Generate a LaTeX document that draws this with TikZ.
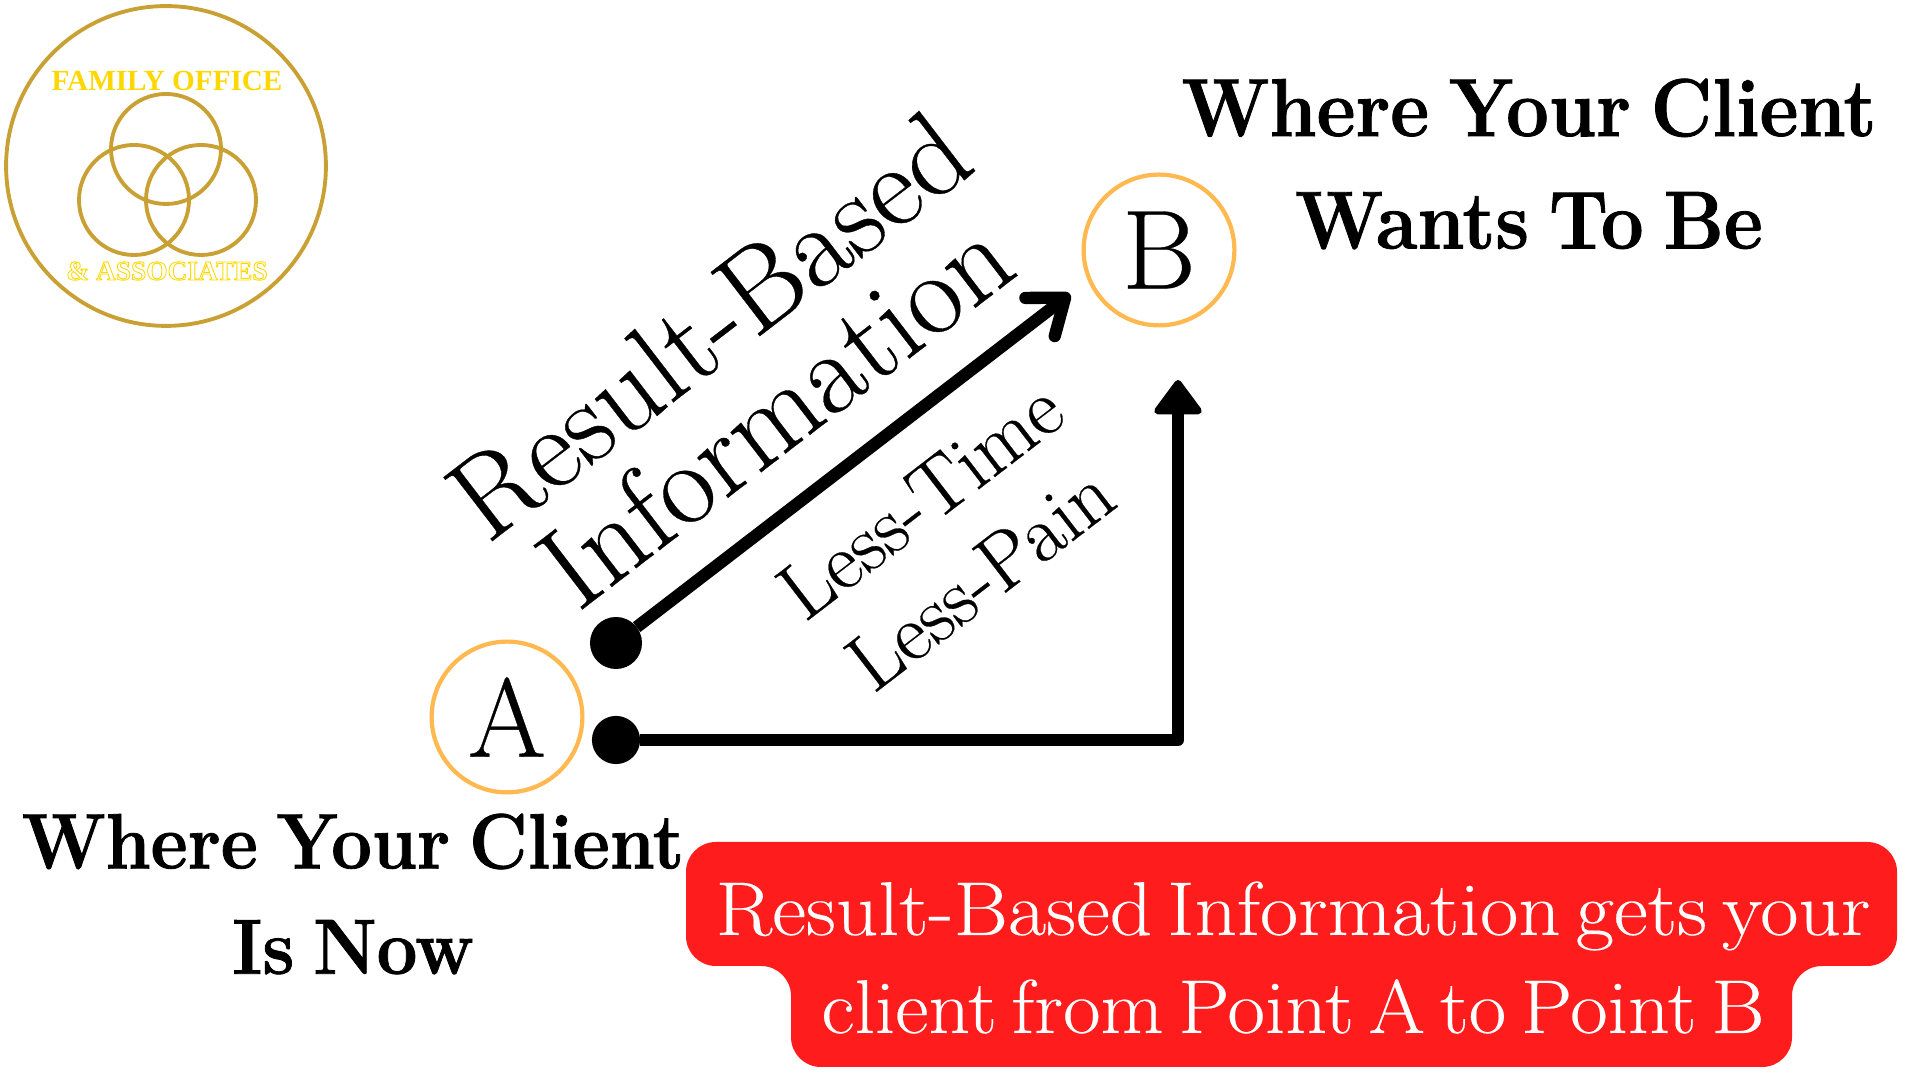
\documentclass[tikz,border=0pt]{standalone}
\usepackage{fontspec}
\usetikzlibrary{arrows.meta}
\setmainfont[FakeBold=0.3]{Latin Modern Roman}
\newfontfamily\headfont[FakeStretch=0.92,WordSpace=0.7,BoldFeatures={FakeBold=1}]{Latin Modern Roman}
\newfontfamily\bannerfont[FakeStretch=1.09,WordSpace=0.6,FakeBold=0.2]{Latin Modern Roman}
\newfontfamily\bannerfontb[FakeStretch=1.07,WordSpace=0.6,FakeBold=0.2]{Latin Modern Roman}
\newfontfamily\logofont{Liberation Serif}
\definecolor{goldline}{HTML}{C9A033}
\definecolor{goldtext}{HTML}{FFD700}
\definecolor{ringorange}{HTML}{FFB950}
\definecolor{bannerred}{HTML}{FF1C1C}
\tikzset{
  ring/.style={circle, draw=ringorange, line width=1.2pt, minimum size=42.9pt, inner sep=0pt, font=\fontsize{32}{32}\selectfont},
  logoring/.style={circle, draw=goldline, line width=1.1pt, inner sep=0pt},
  dot/.style={circle, fill=black, inner sep=0pt, outer sep=0pt},
  thick line/.style={line width=3.5pt, line join=round},
  heading/.style={font=\headfont\fontsize{23.4}{32}\selectfont\bfseries, align=center},
  banner text/.style={white, font=\bannerfont\fontsize{21.7}{22}\selectfont},
}
\begin{document}
\begin{tikzpicture}
\useasboundingbox (0,0) rectangle (19.2,10.8);
% logo
\node[logoring, minimum size=91pt] (logo) at (1.66,9.14){};
\node[logoring, minimum size=31.3pt] (ringtop) at (1.66,9.31){};
\node[logoring, minimum size=31.3pt] (ringleft) at (1.34,8.8){};
\node[logoring, minimum size=31.3pt] (ringright) at (2.01,8.8){};
\node[goldtext, font=\logofont\fontsize{8.3}{9}\selectfont\bfseries] (family) at (1.67,9.99){FAMILY OFFICE};
\node[goldtext, font=\logofont\fontsize{7.8}{9}\selectfont\bfseries] (assoc) at (1.67,8.09){\special{pdf:code 1 Tr 0.25 w}\& ASSOCIATES\special{pdf:code 0 Tr}};
% points
\node[ring] (pointA) at (5.07,3.63){A};
\node[ring] (pointB) at (11.59,8.3){B};
\node[dot, minimum size=14.8pt] (start1) at (6.16,4.37){};
\node[dot, minimum size=13.7pt] (start2) at (6.16,3.4){};
\coordinate (end1) at (10.7,7.86);
\coordinate (corner) at (11.78,3.4);
\coordinate (end2) at (11.78,7.0);
\draw[thick line, -{Straight Barb[length=9pt, width=13.7pt, round]}] (start1) -- (end1);
\draw[thick line, -{Triangle[length=10.5pt, width=15pt, round, line width=2pt]}] (start2) -- (corner) -- (end2);
% labels
\node[heading] (whereB) at (15.29,9.16){Where Your Client\\Wants To Be};
\node[heading, font=\headfont\fontsize{22.3}{30}\selectfont\bfseries] (whereA) at (3.53,1.86){Where Your Client\\Is Now};
\node[rotate=37.5, align=center, font=\fontsize{33.5}{31}\selectfont] (result) at (7.414,7.121){Result-Based\\Information};
\node[rotate=37.5, align=center, font=\fontsize{23.1}{28}\selectfont] (less) at (9.5,5.41){Less-Time\\Less-Pain};
% banner
\fill[bannerred, rounded corners=8.5pt] (6.86,1.8) -- (6.86,1.14) -- (7.91,1.14) -- (7.91,0.13) -- (17.92,0.13) -- (17.92,1.14) -- (18.97,1.14) -- (18.97,2.38) -- (6.86,2.38) -- cycle;
\node[banner text, anchor=base] (bannertop) at (12.93,1.45){Result-Based Information gets your};
\node[banner text, font=\bannerfontb\fontsize{21.7}{22}\selectfont, anchor=base] (bannerbot) at (12.93,0.47){client from Point A to Point B};
\end{tikzpicture}
\end{document}
